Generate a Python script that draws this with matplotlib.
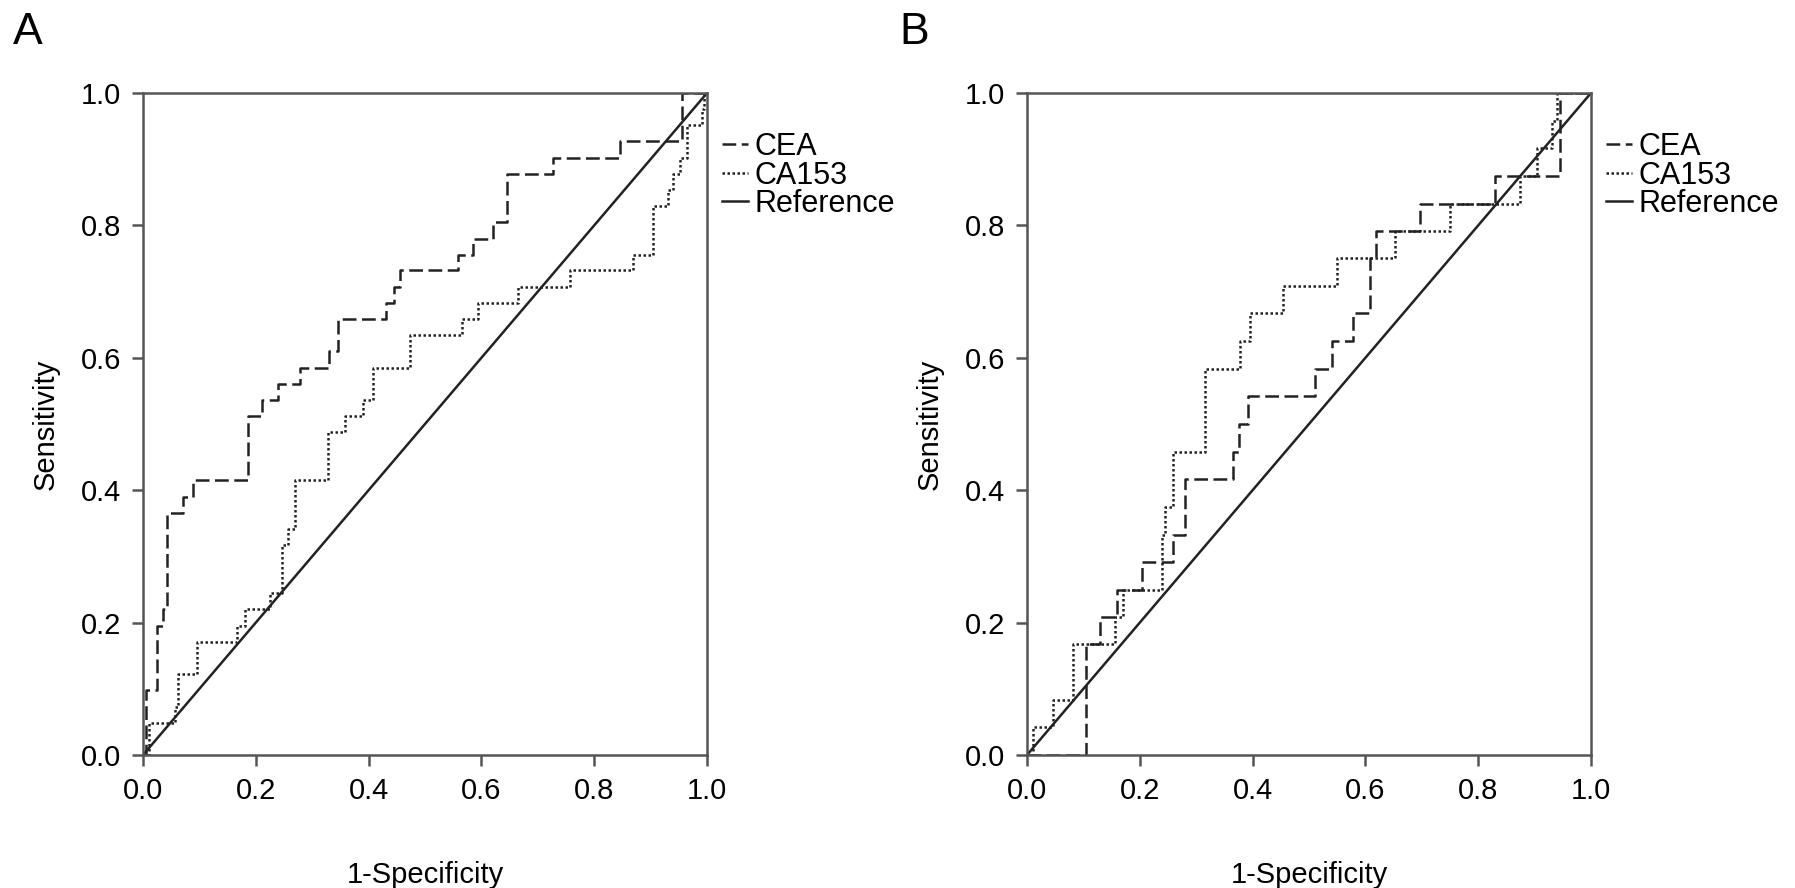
import matplotlib
matplotlib.use("Agg")
import matplotlib.pyplot as plt

plt.rcParams['font.family'] = ['Liberation Sans', 'DejaVu Sans']

# ---- data (1-specificity, sensitivity at each step) ----
# Panel A
cea_a_fpr = [0.0, 0.005, 0.025, 0.035, 0.042, 0.071, 0.089, 0.186, 0.211, 0.239,
             0.278, 0.330, 0.345, 0.430, 0.445, 0.456, 0.558, 0.585, 0.621, 0.645,
             0.727, 0.846, 0.956, 1.0]
cea_a_tpr = [0.0, 0.098, 0.195, 0.220, 0.366, 0.390, 0.415, 0.512, 0.537, 0.561,
             0.585, 0.610, 0.659, 0.683, 0.707, 0.732, 0.756, 0.780, 0.805, 0.878,
             0.902, 0.927, 1.0, 1.0]
ca_a_fpr = [0.0, 0.010, 0.057, 0.062, 0.096, 0.167, 0.181, 0.225, 0.246, 0.257,
            0.270, 0.328, 0.358, 0.390, 0.408, 0.473, 0.566, 0.594, 0.665, 0.757,
            0.869, 0.904, 0.930, 0.940, 0.952, 0.964, 0.991, 0.995, 1.0]
ca_a_tpr = [0.0, 0.049, 0.073, 0.122, 0.171, 0.195, 0.220, 0.244, 0.317, 0.341,
            0.415, 0.488, 0.512, 0.537, 0.585, 0.634, 0.659, 0.683, 0.707, 0.732,
            0.756, 0.829, 0.854, 0.878, 0.902, 0.951, 0.976, 1.0, 1.0]

# Panel B
cea_b_fpr = [0.0, 0.105, 0.129, 0.159, 0.204, 0.259, 0.280, 0.365, 0.375, 0.392,
             0.511, 0.540, 0.578, 0.608, 0.618, 0.697, 0.830, 0.945, 1.0]
cea_b_tpr = [0.0, 0.167, 0.208, 0.250, 0.292, 0.333, 0.417, 0.458, 0.500, 0.542,
             0.583, 0.625, 0.667, 0.750, 0.792, 0.833, 0.875, 1.0, 1.0]
ca_b_fpr = [0.0, 0.010, 0.046, 0.082, 0.156, 0.170, 0.239, 0.245, 0.259, 0.316,
            0.378, 0.395, 0.454, 0.550, 0.652, 0.750, 0.874, 0.904, 0.930, 0.940, 1.0]
ca_b_tpr = [0.0, 0.042, 0.083, 0.167, 0.208, 0.250, 0.333, 0.375, 0.458, 0.583,
            0.625, 0.667, 0.708, 0.750, 0.792, 0.833, 0.875, 0.917, 0.958, 1.0, 1.0]

ref_x = [0.0, 1.0]
ref_y = [0.0, 1.0]

ticks = [0.0, 0.2, 0.4, 0.6, 0.8, 1.0]
tick_labels = ['0.0', '0.2', '0.4', '0.6', '0.8', '1.0']
series_names = ['CEA', 'CA153', 'Reference']
panel_names = ['A', 'B']

W, H = 1795, 888
fig = plt.figure(figsize=(W / 100, H / 100), dpi=100)

line_col = '#222222'
spine_col = '#555555'


def draw_panel(ax, cea_x, cea_y, ca_x, ca_y):
    ax.plot(cea_x, cea_y, drawstyle='steps-post', color=line_col, lw=1.8,
            dashes=(5.5, 2.2), label=series_names[0])
    ax.plot(ca_x, ca_y, drawstyle='steps-post', color=line_col, lw=1.8,
            dashes=(1.0, 1.0), label=series_names[1])
    ax.plot(ref_x, ref_y, color=line_col, lw=1.8, label=series_names[2])
    ax.set_xlim(0, 1)
    ax.set_ylim(0, 1)
    ax.set_xticks(ticks)
    ax.set_xticklabels(tick_labels)
    ax.set_yticks(ticks)
    ax.set_yticklabels(tick_labels)
    ax.tick_params(labelsize=21, length=8, width=1.8, color=spine_col,
                   pad=8, direction='out')
    for s in ax.spines.values():
        s.set_color(spine_col)
        s.set_linewidth(1.8)
    ax.set_xlabel('1-Specificity', fontsize=21, labelpad=40)
    ax.set_ylabel('Sensitivity', fontsize=21, labelpad=15)
    ax.legend(loc='upper left', bbox_to_anchor=(1.027, 0.941), frameon=False,
              fontsize=22, handlelength=0.85, handletextpad=0.2,
              labelspacing=-0.05, borderaxespad=0, borderpad=0)


axA = fig.add_axes([143 / W, (H - 755) / H, 564 / W, 662 / H])
axB = fig.add_axes([1027 / W, (H - 755) / H, 564 / W, 662 / H])
draw_panel(axA, cea_a_fpr, cea_a_tpr, ca_a_fpr, ca_a_tpr)
draw_panel(axB, cea_b_fpr, cea_b_tpr, ca_b_fpr, ca_b_tpr)

fig.text(13 / W, 1 - 12 / H, panel_names[0], fontsize=32, va='top', ha='left')
fig.text(899 / W, 1 - 12 / H, panel_names[1], fontsize=32, va='top', ha='left')

fig.savefig('out.png', dpi=100)
